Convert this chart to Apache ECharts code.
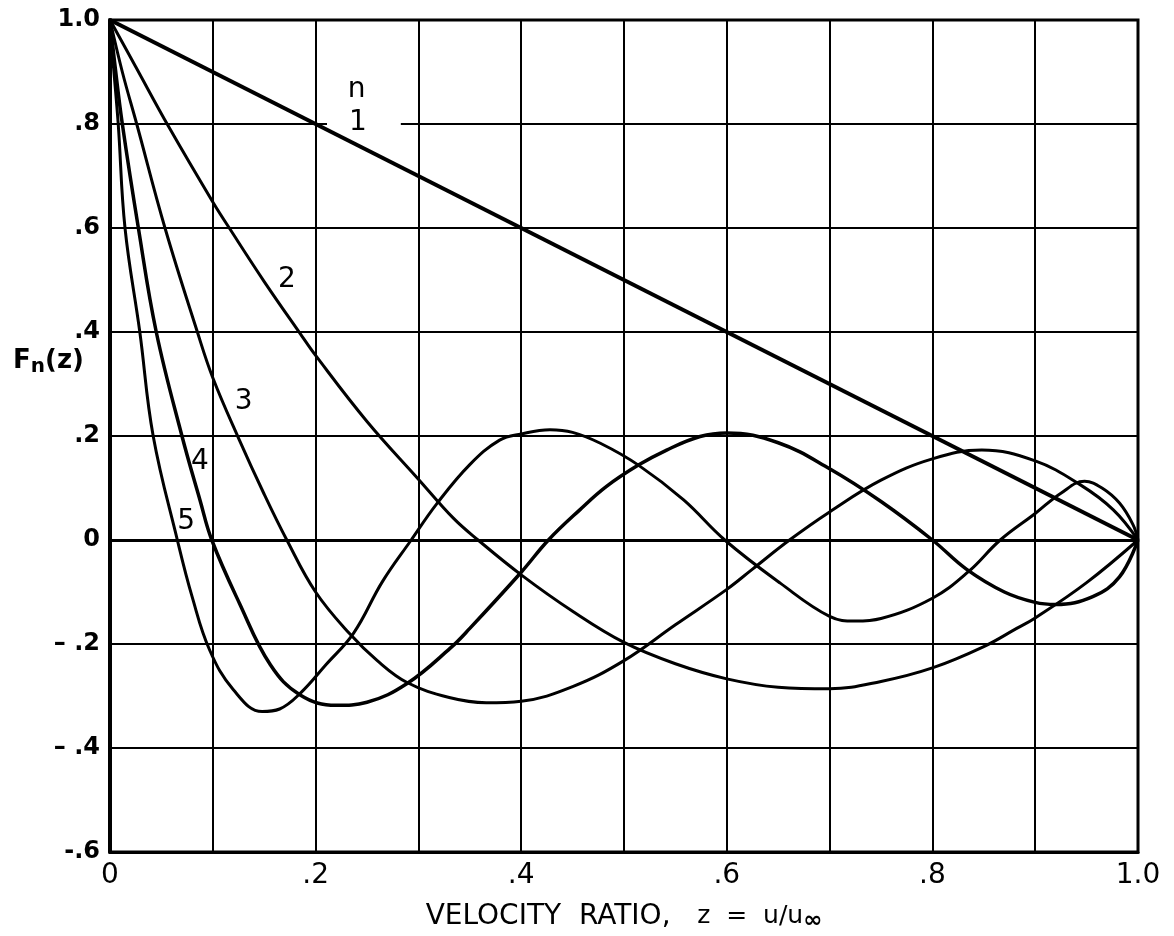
<!DOCTYPE html>
<html>
<head>
<meta charset="utf-8">
<title>F_n(z) vs velocity ratio</title>
<script src="https://cdn.jsdelivr.net/npm/echarts@6/dist/echarts.min.js"></script>
<style>
  html, body { margin: 0; padding: 0; background: #fff; }
  #chart { width: 1174px; height: 936px; }
</style>
</head>
<body>
<div id="chart"></div>
<script>
// values, [z, F_n(z)]
var curve1 = [[0, 1], [1, 0]];
var curve2 = [[0, 1], [0.025, 0.91], [0.057, 0.795], [0.1, 0.65], [0.117, 0.597], [0.15, 0.497],
    [0.185, 0.397], [0.2, 0.355], [0.25, 0.228], [0.3, 0.117], [0.334, 0.042], [0.358, 0],
    [0.4, -0.067], [0.45, -0.137], [0.5, -0.197], [0.55, -0.238], [0.6, -0.267], [0.65, -0.283],
    [0.7, -0.286], [0.75, -0.272], [0.8, -0.246], [0.85, -0.205], [0.882, -0.17], [0.9, -0.15],
    [0.95, -0.082], [1, 0]];
var curve3 = [[0, 1], [0.012, 0.9], [0.026, 0.8], [0.0535, 0.6], [0.085, 0.4], [0.1, 0.312],
    [0.125, 0.196], [0.15, 0.088], [0.172, 0], [0.2, -0.1], [0.233, -0.18], [0.26, -0.232],
    [0.289, -0.274], [0.33, -0.303], [0.366, -0.313], [0.4, -0.31], [0.45, -0.282], [0.5, -0.232],
    [0.55, -0.163], [0.6, -0.095], [0.625, -0.056], [0.661, 0], [0.7, 0.054], [0.75, 0.115],
    [0.8, 0.156], [0.848, 0.173], [0.9, 0.152], [0.944, 0.106], [0.976, 0.058], [1, 0]];
var curve4 = [[0, 1], [0.005, 0.91], [0.012, 0.8], [0.0276, 0.6], [0.045, 0.4], [0.07, 0.2],
    [0.0875, 0.077], [0.099, 0], [0.126, -0.122], [0.156, -0.24], [0.185, -0.298], [0.22, -0.318],
    [0.25, -0.312], [0.289, -0.276], [0.331, -0.208], [0.35, -0.17], [0.4, -0.062], [0.4265, 0],
    [0.457, 0.058], [0.483, 0.103], [0.514, 0.144], [0.5415, 0.173], [0.574, 0.199], [0.6, 0.206],
    [0.65, 0.187], [0.7, 0.137], [0.75, 0.074], [0.8, 0], [0.833, -0.056], [0.87, -0.1],
    [0.9, -0.12], [0.92, -0.124], [0.956, -0.109], [0.982, -0.071], [1, 0]];
var curve5 = [[0, 1], [0.003, 0.92], [0.008, 0.8], [0.0146, 0.6], [0.029, 0.4], [0.042, 0.2],
    [0.0655, 0], [0.08, -0.11], [0.097, -0.212], [0.12, -0.288], [0.148, -0.33], [0.165, -0.325],
    [0.185, -0.295], [0.21, -0.24], [0.237, -0.179], [0.265, -0.08], [0.293, 0], [0.318, 0.07],
    [0.35, 0.145], [0.379, 0.192], [0.4, 0.204], [0.428, 0.212], [0.45, 0.207], [0.477, 0.186],
    [0.514, 0.144], [0.558, 0.077], [0.598, 0], [0.652, -0.083], [0.7, -0.147], [0.725, -0.156],
    [0.75, -0.151], [0.8, -0.112], [0.835, -0.061], [0.866, 0], [0.9, 0.051], [0.925, 0.09],
    [0.948, 0.113], [0.965, 0.1], [0.982, 0.071], [0.995, 0.03], [1, 0]];

// curve labels written on the plot: [z, F, text]
var curveLabels = [[0.24, 0.865, 'n'], [0.172, 0.5, '2'], [0.13, 0.266, '3'],
    [0.0875, 0.15, '4'], [0.074, 0.035, '5']];
var nOneLabel = [[0.247, 0.802, '1']];

var yTicks = [1, 0.8, 0.6, 0.4, 0.2, 0, -0.2, -0.4, -0.6];
var yTickLabels = ['1.0', '.8', '.6', '.4', '.2', '0', '– .2', '– .4', '-.6'];
var xTicks = [0, 0.2, 0.4, 0.6, 0.8, 1];
var xTickLabels = ['0', '.2', '.4', '.6', '.8', '1.0'];

var font = 'DejaVu Sans';

function pick(ticks, labels, v) {
    for (var i = 0; i < ticks.length; i++) {
        if (Math.abs(ticks[i] - v) < 1e-6) return labels[i];
    }
    return '';
}

function curve(name, data, width) {
    return {
        name: name,
        type: 'line',
        data: data,
        z: 3,
        smooth: 0.4,
        showSymbol: false,
        silent: true,
        lineStyle: {color: '#000', width: width}
    };
}

var myChart = echarts.init(document.getElementById('chart'));

var option = {
    backgroundColor: '#fff',
    animation: false,
    title: {
        text: '{a|F}{b|n}{a|(z)}',
        left: 8,
        top: 340,
        textStyle: {
            rich: {
                a: {fontFamily: font, fontSize: 26, color: '#000', fontWeight: 'bold'},
                b: {fontFamily: font, fontSize: 20, color: '#000', fontWeight: 'bold', padding: [12, 0, 0, 0]}
            }
        }
    },
    grid: {
        left: 110, right: 36, top: 20, bottom: 84,
        outerBoundsMode: 'none',
        show: true, borderColor: '#000', borderWidth: 3
    },
    xAxis: {
        type: 'value',
        min: 0, max: 1, interval: 0.1,
        name: 'VELOCITY  RATIO,   {z|z  =  u/u}{s|∞}',
        nameLocation: 'middle',
        nameGap: 48,
        nameTextStyle: {
            fontFamily: font, fontSize: 28, color: '#000',
            rich: {
                z: {fontFamily: font, fontSize: 25, color: '#000'},
                s: {fontFamily: font, fontSize: 23, color: '#000', fontWeight: 'bold', padding: [10, 0, 0, 0]}
            }
        },
        axisLine: {onZero: false, lineStyle: {color: '#000', width: 3}},
        axisTick: {show: false},
        axisLabel: {
            margin: 10,
            fontFamily: font, fontSize: 28, color: '#000',
            formatter: function (v) { return pick(xTicks, xTickLabels, v); }
        },
        splitLine: {show: true, lineStyle: {color: '#000', width: 2}}
    },
    yAxis: {
        type: 'value',
        min: -0.6, max: 1, interval: 0.2,
        axisLine: {lineStyle: {color: '#000', width: 4}},
        axisTick: {show: false},
        axisLabel: {
            margin: 10,
            fontFamily: font, fontSize: 24, fontWeight: 'bold', color: '#000',
            formatter: function (v) { return pick(yTicks, yTickLabels, v); }
        },
        splitLine: {show: true, lineStyle: {color: '#000', width: 2}}
    },
    series: [
        Object.assign(curve('1', curve1, 4), {
            markLine: {
                silent: true, symbol: 'none', label: {show: false},
                lineStyle: {color: '#000', width: 3, type: 'solid'},
                data: [{yAxis: 0}]
            }
        }),
        curve('2', curve2, 3),
        curve('3', curve3, 3),
        curve('4', curve4, 3.5),
        curve('5', curve5, 3),
        {
            type: 'scatter',
            symbolSize: 0,
            silent: true,
            z: 1,
            itemStyle: {opacity: 1},
            data: nOneLabel,
            label: {
                show: true, position: 'inside', opacity: 1,
                formatter: function (p) { return p.value[2]; },
                fontFamily: font, fontSize: 28, color: '#000', lineHeight: 22,
                backgroundColor: '#fff', padding: [2, 34, 2, 22]
            }
        },
        {
            type: 'scatter',
            symbolSize: 0,
            silent: true,
            z: 6,
            itemStyle: {opacity: 1},
            data: curveLabels,
            label: {
                show: true, position: 'inside', opacity: 1,
                formatter: function (p) { return p.value[2]; },
                fontFamily: font, fontSize: 28, color: '#000'
            }
        }
    ]
};
myChart.setOption(option);
</script>
</body>
</html>
